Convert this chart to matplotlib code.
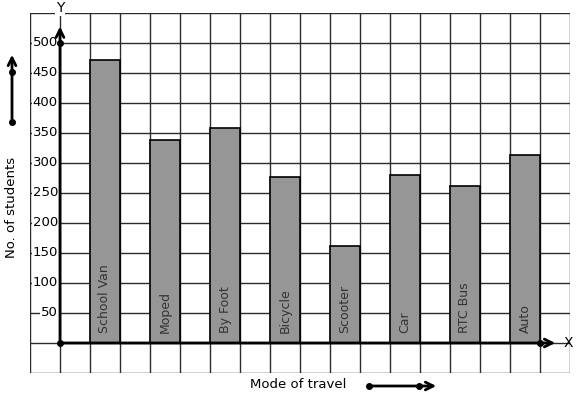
import matplotlib.pyplot as plt
import numpy as np

# Mode of travel vs number of students
modes = ['School Van', 'Moped', 'By Foot', 'Bicycle', 'Scooter', 'Car', 'RTC Bus', 'Auto']
students = [471, 338, 358, 276, 161, 280, 261, 313]
y_ticks = [50, 100, 150, 200, 250, 300, 350, 400, 450, 500]

W, H = 577, 399
fig = plt.figure(figsize=(W / 100, H / 100), dpi=100)
ax = fig.add_axes([30 / W, 26 / H, 540 / W, 360 / H])
ax.set_xlim(-1, 17)
ax.set_ylim(-50, 550)
ax.axis('off')

# square grid, one cell = 1 unit across, 50 students up
for gx in range(-1, 18):
    ax.axvline(gx, color='#2b2b2b', lw=1, zorder=1)
for gy in range(-50, 551, 50):
    ax.axhline(gy, color='#2b2b2b', lw=1, zorder=1)

# bars sit in every other cell
pos = np.arange(len(modes)) * 2 + 1.5
ax.bar(pos, students, width=1, color='#969696', edgecolor='black', lw=1.2, zorder=2)
for x, name in zip(pos, modes):
    ax.text(x, 17, name, rotation=90, ha='center', va='bottom', fontsize=9,
            color='#333333', zorder=3)

# y tick labels with white background over the grid
for t in y_ticks:
    ax.text(-0.07, t, str(t), ha='right', va='center', fontsize=9.5, zorder=3,
            bbox=dict(facecolor='white', edgecolor='none', pad=0.5))

# axes with arrows
ax.annotate('', xy=(0, 532), xytext=(0, 0),
            arrowprops=dict(arrowstyle='->', lw=2, color='black', mutation_scale=14), zorder=4)
ax.annotate('', xy=(16.6, 0), xytext=(0, 0),
            arrowprops=dict(arrowstyle='->', lw=2, color='black', mutation_scale=14), zorder=4)
ax.plot([0, 0, 16], [0, 500, 0], 'o', color='black', ms=4, zorder=5)
ax.text(0, 558, 'Y', ha='center', va='center', fontsize=10, zorder=5,
        bbox=dict(facecolor='white', edgecolor='none', pad=0.5), clip_on=False)
ax.text(16.95, 0, 'X', ha='center', va='center', fontsize=10, zorder=5)

# axis titles with direction arrows
fig.text(12 / W, (H - 207) / H, 'No. of students', rotation=90, ha='center', va='center', fontsize=9.5)
fig.text(298 / W, (H - 385) / H, 'Mode of travel', ha='center', va='center', fontsize=9.5)
ax.annotate('', xy=(12, H - 52), xytext=(12, H - 122), xycoords='figure pixels',
            textcoords='figure pixels',
            arrowprops=dict(arrowstyle='->', lw=2, color='black', mutation_scale=14))
ax.annotate('', xy=(439, H - 386), xytext=(369, H - 386), xycoords='figure pixels',
            textcoords='figure pixels',
            arrowprops=dict(arrowstyle='->', lw=2, color='black', mutation_scale=14))
fig.lines.append(plt.Line2D([12, 12], [H - 122, H - 72], transform=None, ls='none',
                            marker='o', ms=4, color='black'))
fig.lines.append(plt.Line2D([369, 419], [H - 386, H - 386], transform=None, ls='none',
                            marker='o', ms=4, color='black'))

fig.savefig('out.png', dpi=100)
